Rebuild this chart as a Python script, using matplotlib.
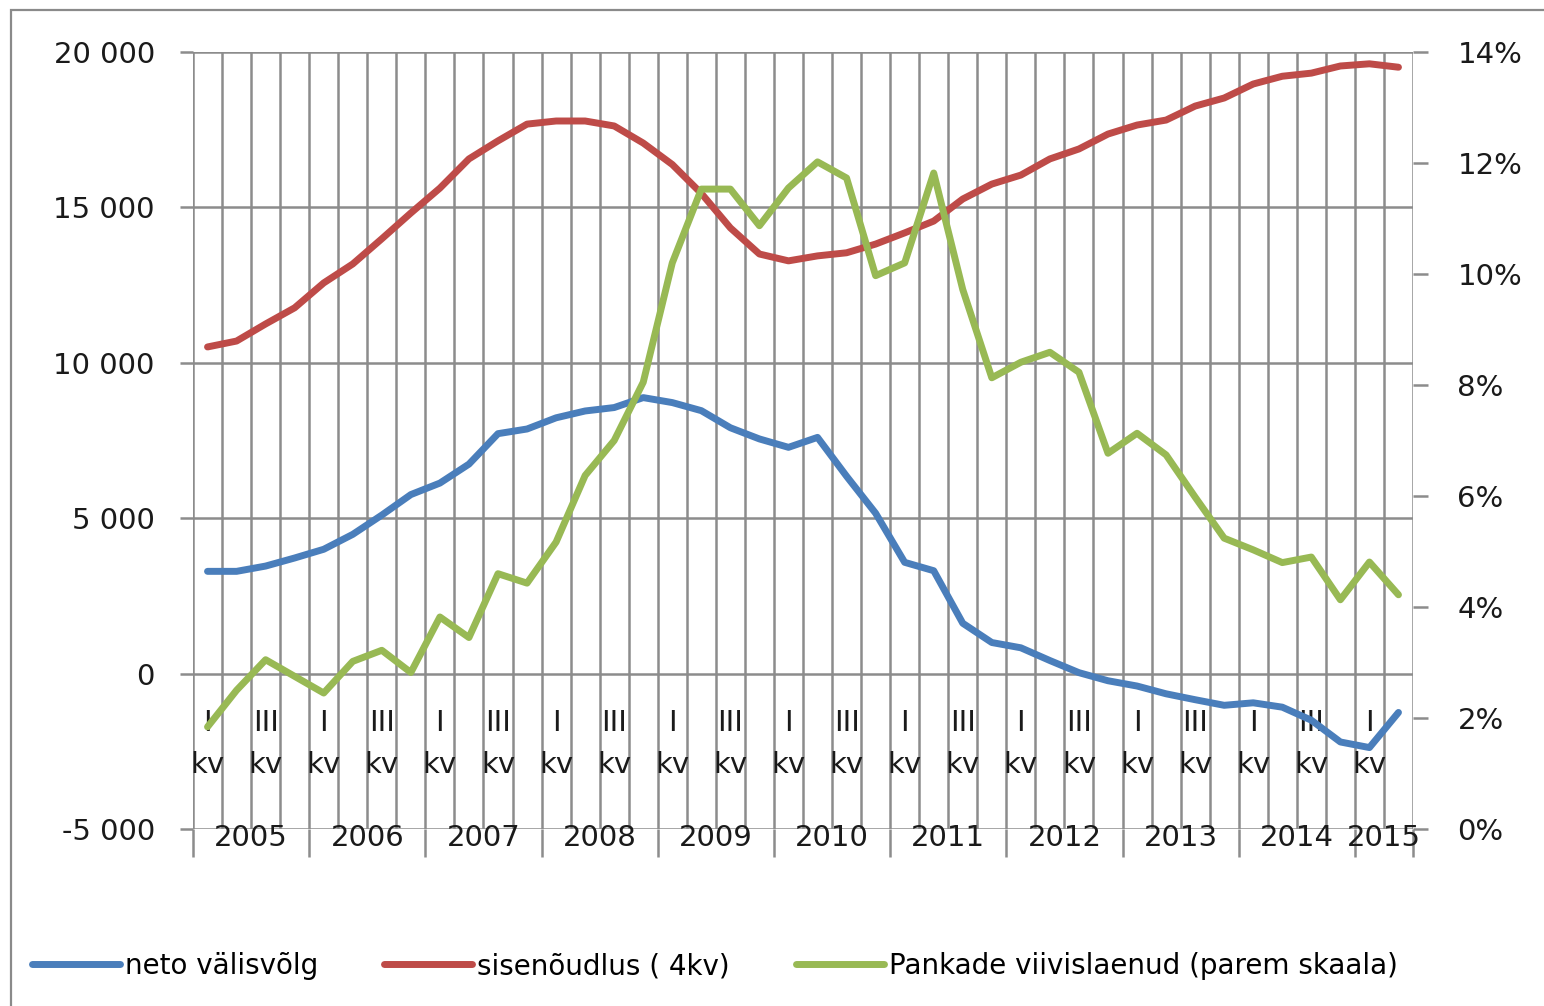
import matplotlib
matplotlib.use("Agg")
import matplotlib.pyplot as plt
from matplotlib.patches import Rectangle
from matplotlib.ticker import FixedLocator, NullFormatter

# ---- data ----
years = [2005, 2006, 2007, 2008, 2009, 2010, 2011, 2012, 2013, 2014, 2015]
quarters_per_year = [4, 4, 4, 4, 4, 4, 4, 4, 4, 4, 2]
quarter_names = ["I", "II", "III", "IV"]

neto_valisvolg = [3290, 3290, 3460, 3720, 4000, 4480, 5100, 5760, 6130, 6740,
                  7720, 7870, 8230, 8450, 8560, 8880, 8720, 8460, 7910, 7550,
                  7280, 7600, 6350, 5160, 3580, 3310, 1620, 1000, 830, 420,
                  30, -230, -400, -650, -840, -1020, -940, -1080, -1500, -2200,
                  -2380, -1250]
sisenoudlus = [10510, 10700, 11250, 11770, 12570, 13180, 13990, 14820, 15620, 16560,
               17140, 17680, 17780, 17780, 17620, 17070, 16380, 15450, 14340, 13500,
               13280, 13440, 13540, 13820, 14180, 14560, 15270, 15750, 16040, 16560,
               16880, 17360, 17650, 17810, 18260, 18520, 18970, 19220, 19320, 19550,
               19620, 19510]
viivislaenud = [1.84, 2.5, 3.05, 2.75, 2.45, 3.02, 3.22, 2.82, 3.82, 3.45,
                4.6, 4.43, 5.17, 6.37, 7.0, 8.05, 10.2, 11.53, 11.53, 10.87,
                11.55, 12.02, 11.73, 9.97, 10.2, 11.82, 9.72, 8.13, 8.41, 8.59,
                8.23, 6.77, 7.13, 6.74, 5.98, 5.24, 5.03, 4.8, 4.9, 4.13,
                4.81, 4.22]

left_ticks = [-5000, 0, 5000, 10000, 15000, 20000]
left_tick_labels = ["-5 000", "0", "5 000", "10 000", "15 000", "20 000"]
right_ticks = [0, 2, 4, 6, 8, 10, 12, 14]
right_tick_labels = ["0%", "2%", "4%", "6%", "8%", "10%", "12%", "14%"]

series_names = ["neto välisvõlg", "sisenõudlus ( 4kv)", "Pankade viivislaenud (parem skaala)"]
colors = ["#4A7EBB", "#BE4B48", "#98B954"]

# ---- figure ----
FS = 21
GRID = "#8c8c8c"
fig = plt.figure(figsize=(15.44, 10.06), dpi=100)
fig.patch.set_facecolor("white")
ax = fig.add_axes([193/1544, 1 - 829/1006, (1413-193)/1544, (829-52)/1006])
ax2 = ax.twinx()

n = len(neto_valisvolg)
x = list(range(n))
quarter_labels = []
for ny in quarters_per_year:
    quarter_labels += quarter_names[:ny]

l1, = ax.plot(x, neto_valisvolg, color=colors[0], lw=5, solid_capstyle="round",
              solid_joinstyle="round", zorder=3)
l2, = ax.plot(x, sisenoudlus, color=colors[1], lw=5, solid_capstyle="round",
              solid_joinstyle="round", zorder=3)
l3, = ax2.plot(x, viivislaenud, color=colors[2], lw=5, solid_capstyle="round",
               solid_joinstyle="round", zorder=3)

ax.set_xlim(-0.5, n - 0.5)
ax.set_ylim(-5000, 20000)
ax2.set_ylim(0, 14)

for a in (ax, ax2):
    for s in a.spines.values():
        s.set_visible(False)

# x: year boundaries as major ticks, quarter boundaries as minor (gridlines)
bounds_year = [-0.5]
for ny in quarters_per_year:
    bounds_year.append(bounds_year[-1] + ny)
ax.xaxis.set_major_locator(FixedLocator(bounds_year))
ax.xaxis.set_minor_locator(FixedLocator([b - 0.5 for b in range(n + 1)]))
ax.xaxis.set_major_formatter(NullFormatter())
ax.tick_params(axis="x", which="major", length=20, width=1.8, color=GRID, direction="out")
ax.tick_params(axis="x", which="minor", length=0)
ax.grid(True, axis="x", which="both", color=GRID, lw=1.8)
ax.grid(True, axis="y", which="major", color=GRID, lw=1.8)
ax.set_axisbelow(True)

ax.set_yticks(left_ticks)
ax.set_yticklabels(left_tick_labels)
ax.tick_params(axis="y", length=9.5, width=1.8, color=GRID, direction="out",
               labelsize=FS, pad=18, labelcolor="#1a1a1a")
ax2.set_yticks(right_ticks)
ax2.set_yticklabels(right_tick_labels)
ax2.tick_params(axis="y", length=11, width=1.8, color=GRID, direction="out",
                labelsize=FS, pad=21, labelcolor="#1a1a1a")
ax2.grid(False)

# quarter labels inside the plot area
tr = ax.get_xaxis_transform()
for i in range(0, n, 2):
    ax.text(i, 0.137, quarter_labels[i], transform=tr, ha="center", va="center",
            fontsize=FS, color="#1a1a1a", zorder=1)
    ax.text(i, 0.082, "kv", transform=tr, ha="center", va="center",
            fontsize=FS, color="#1a1a1a", zorder=1)

# year labels under the axis
start = 0
for yr, ny in zip(years, quarters_per_year):
    cx = start + (ny - 1) / 2
    ax.text(cx, -0.012, str(yr), transform=tr, ha="center", va="center",
            fontsize=FS, color="#1a1a1a", clip_on=False)
    start += ny

# legend
fig.legend([l1, l2, l3], series_names, loc="center left",
           bbox_to_anchor=(32/1544, 40/1006), bbox_transform=fig.transFigure,
           ncol=3, frameon=False, fontsize=20, handlelength=3.17,
           handletextpad=0.18, columnspacing=2.37, borderpad=0, borderaxespad=0)

# outer chart border
fig.patches.append(Rectangle((11/1544, -0.05), 1.2, 1 - 10/1006 + 0.05,
                             transform=fig.transFigure, fill=False,
                             edgecolor="#8a8a8a", lw=1.6))

fig.savefig("out.png", dpi=100, facecolor="white")
